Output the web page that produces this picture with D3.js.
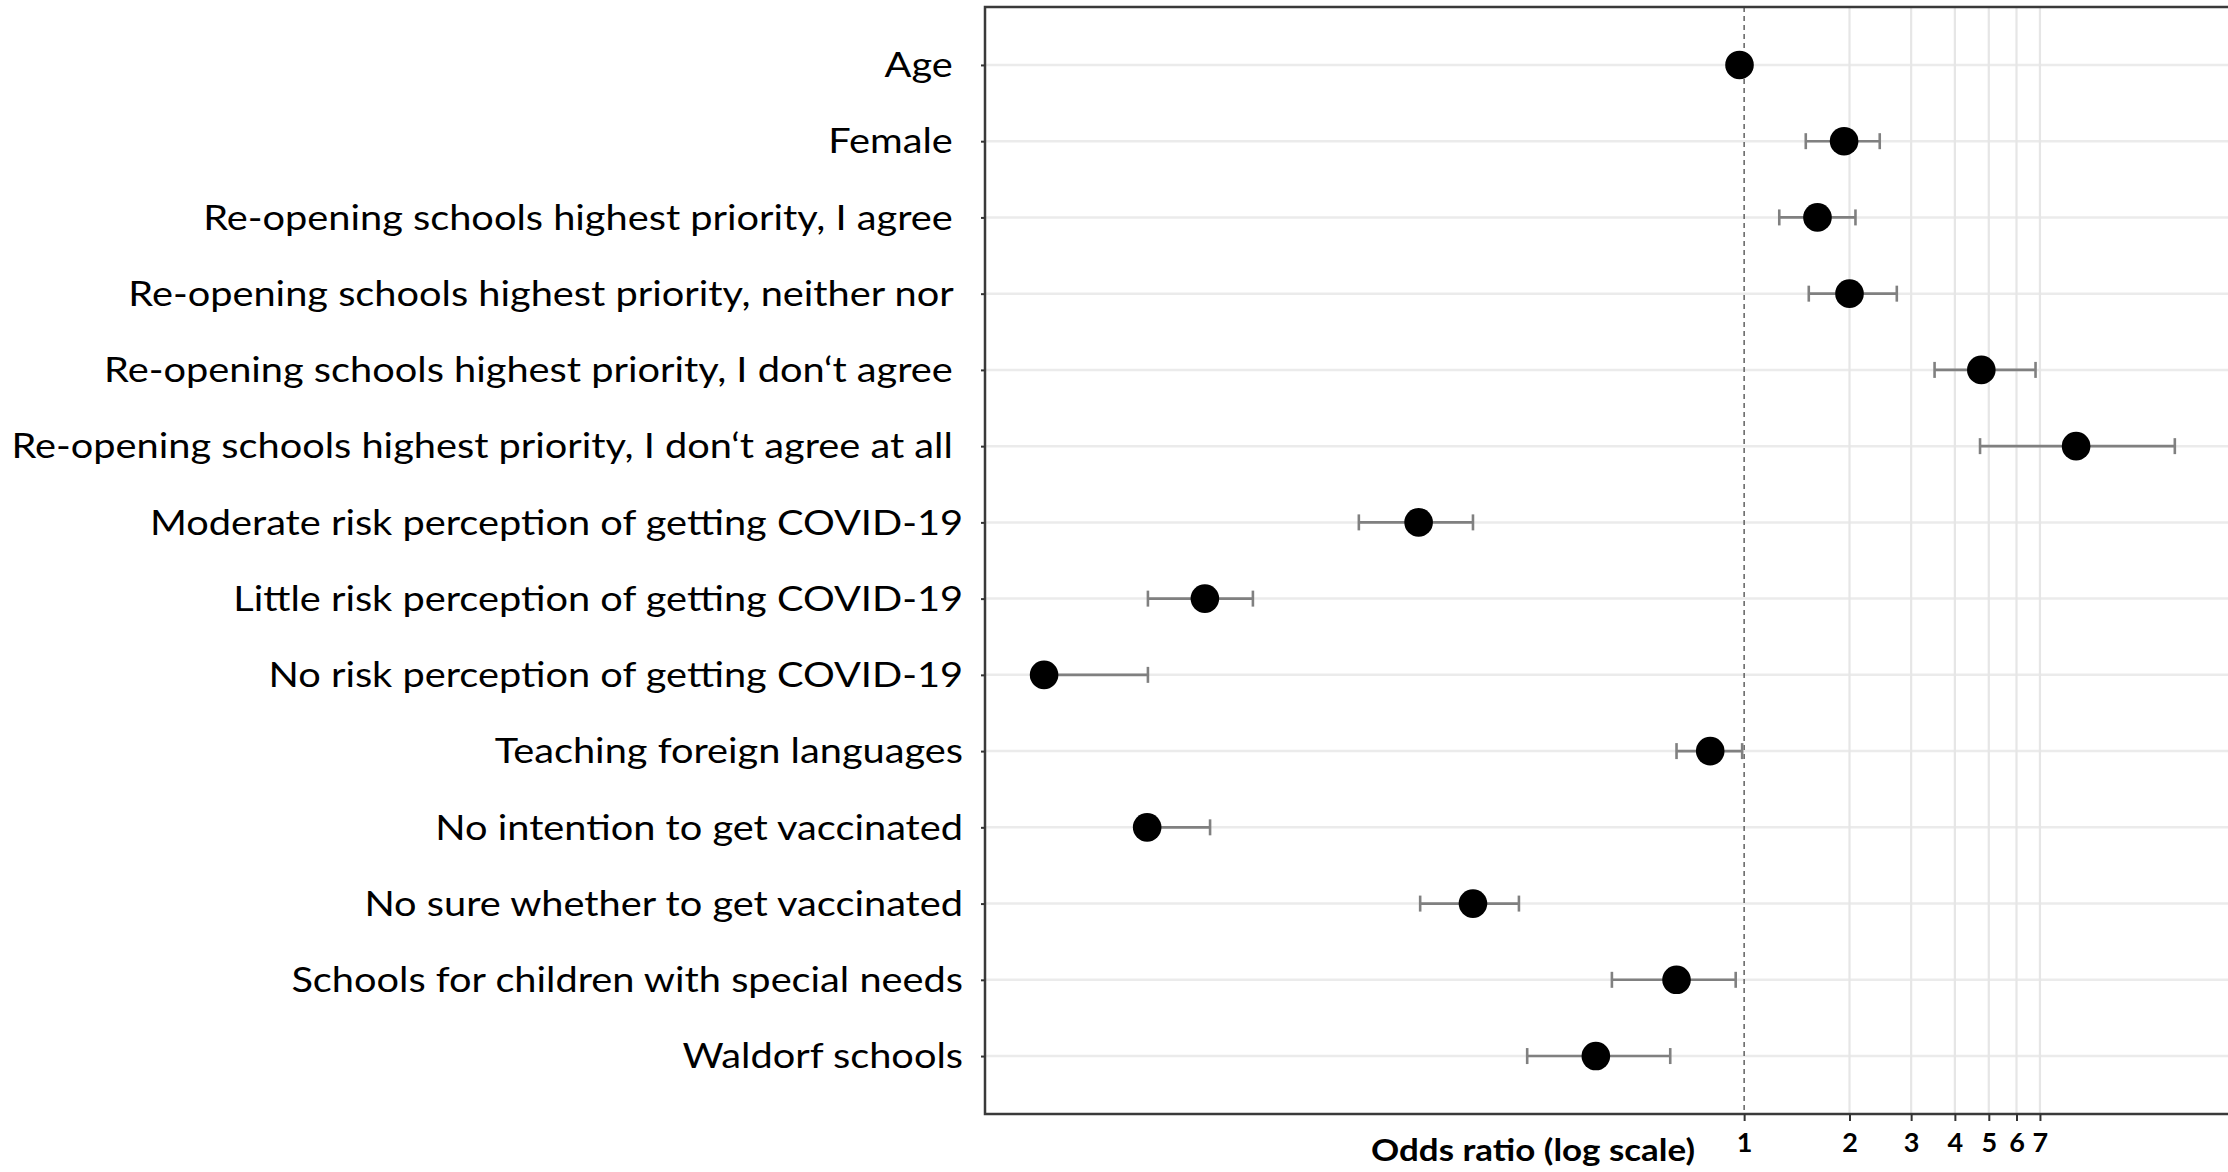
<!DOCTYPE html>
<html>
<head>
<meta charset="utf-8">
<script src="https://cdn.jsdelivr.net/npm/d3@7"></script>
<style>
  html, body { margin: 0; padding: 0; background: #fff; overflow: hidden; }
  svg { display: block; }
  text { white-space: pre; }
</style>
</head>
<body>
<svg id="chart" width="2228" height="1172"></svg>
<script>
const categories = [
  "Age ",
  "Female ",
  "Re-opening schools highest priority, I agree ",
  "Re-opening schools highest priority, neither nor ",
  "Re-opening schools highest priority, I don‘t agree ",
  "Re-opening schools highest priority, I don‘t agree at all ",
  "Moderate risk perception of getting COVID-19",
  "Little risk perception of getting COVID-19",
  "No risk perception of getting COVID-19",
  "Teaching foreign languages",
  "No intention to get vaccinated",
  "No sure whether to get vaccinated",
  "Schools for children with special needs",
  "Waldorf schools"
];
const oddsRatio = [0.97, 1.93, 1.62, 2.00, 4.76, 8.88, 0.1175, 0.0288, 0.0100, 0.80, 0.0197, 0.168, 0.641, 0.377];
const ciLow     = [0.96, 1.50, 1.26, 1.53, 3.50, 4.72, 0.0793, 0.0198, 0.0095, 0.641, 0.0190, 0.1187, 0.419, 0.240];
const ciHigh    = [0.98, 2.44, 2.08, 2.73, 6.80, 17.0, 0.168, 0.0395, 0.0198, 0.987, 0.0298, 0.2273, 0.946, 0.615];
const xTicks = [1, 2, 3, 4, 5, 6, 7];
const xTitle = "Odds ratio (log scale)";

(function () {
const rows = categories.map((c, i) => ({cat: c, or: oddsRatio[i], lo: ciLow[i], hi: ciHigh[i]}));

const svg = d3.select("#chart");
const pL = 985, pR = 2240, pT = 7, pB = 1114;

const x = d3.scaleLog().domain([0.00678, 26.1]).range([pL, pR]);
const y = d3.scalePoint().domain(categories).range([pT, pB]).padding(0.76);

const labelFont = "Lato, 'Open Sans', sans-serif";

// horizontal gridlines
svg.append("g").selectAll("line").data(categories).join("line")
  .attr("x1", pL).attr("x2", pR)
  .attr("y1", d => y(d)).attr("y2", d => y(d))
  .attr("stroke", "#ebebeb").attr("stroke-width", 2.5);

// vertical gridlines
svg.append("g").selectAll("line").data(xTicks.filter(t => t !== 1)).join("line")
  .attr("x1", d => x(d)).attr("x2", d => x(d))
  .attr("y1", pT).attr("y2", pB)
  .attr("stroke", "#e6e6e6").attr("stroke-width", 2.2);

// reference dashed line at 1
svg.append("line")
  .attr("x1", x(1)).attr("x2", x(1)).attr("y1", pT).attr("y2", pB)
  .attr("stroke", "#555").attr("stroke-width", 1.4).attr("stroke-dasharray", "5,4");

// error bars
const eb = svg.append("g").attr("stroke", "#808080").attr("stroke-width", 2.6);
eb.selectAll("line.h").data(rows).join("line").attr("class", "h")
  .attr("x1", d => x(d.lo)).attr("x2", d => x(d.hi))
  .attr("y1", d => y(d.cat)).attr("y2", d => y(d.cat));
eb.selectAll("line.l").data(rows).join("line").attr("class", "l")
  .attr("x1", d => x(d.lo)).attr("x2", d => x(d.lo))
  .attr("y1", d => y(d.cat) - 8).attr("y2", d => y(d.cat) + 8);
eb.selectAll("line.r").data(rows).join("line").attr("class", "r")
  .attr("x1", d => x(d.hi)).attr("x2", d => x(d.hi))
  .attr("y1", d => y(d.cat) - 8).attr("y2", d => y(d.cat) + 8);

// points
svg.append("g").selectAll("circle").data(rows).join("circle")
  .attr("cx", d => x(d.or)).attr("cy", d => y(d.cat)).attr("r", 14.3)
  .attr("fill", "#000");

// panel border
svg.append("rect").attr("x", pL).attr("y", pT)
  .attr("width", pR - pL).attr("height", pB - pT)
  .attr("fill", "none").attr("stroke", "#3a3a3a").attr("stroke-width", 2.5);

// y axis
const yAxis = svg.append("g").attr("transform", `translate(${pL},0)`)
  .call(d3.axisLeft(y).tickSize(4).tickPadding(0));
yAxis.select(".domain").remove();
yAxis.selectAll(".tick line").attr("stroke", "#333").attr("stroke-width", 2);
yAxis.selectAll(".tick text").remove();

// y labels
const labG = svg.append("g");
const labs = labG.selectAll("text").data(categories).join("text")
  .attr("x", 0).attr("y", d => y(d)).attr("dy", "0.36em")
  .attr("text-anchor", "end")
  .attr("font-family", labelFont).attr("font-size", 34)
  .attr("fill", "#000")
  .text(d => d);
let maxW = 0;
labs.each(function() { maxW = Math.max(maxW, this.getComputedTextLength()); });
const sx = 952 / maxW;
labG.attr("transform", `translate(963,0) scale(${sx},1)`);

// x axis ticks
const xAxis = svg.append("g").attr("transform", `translate(0,${pB})`)
  .call(d3.axisBottom(x).tickValues(xTicks).tickFormat(d3.format("d")).tickSize(7).tickPadding(12));
xAxis.select(".domain").remove();
xAxis.selectAll(".tick line").attr("stroke", "#333").attr("stroke-width", 2);
xAxis.selectAll(".tick text")
  .attr("font-family", labelFont).attr("font-weight", "bold").attr("font-size", 27).attr("fill", "#000");

// x title
svg.append("text")
  .attr("x", 1371).attr("y", 1161)
  .attr("text-anchor", "start")
  .attr("font-family", labelFont).attr("font-weight", "bold").attr("font-size", 30)
  .attr("textLength", 324).attr("lengthAdjust", "spacingAndGlyphs")
  .attr("fill", "#000")
  .text(xTitle);
})();
</script>
</body>
</html>
